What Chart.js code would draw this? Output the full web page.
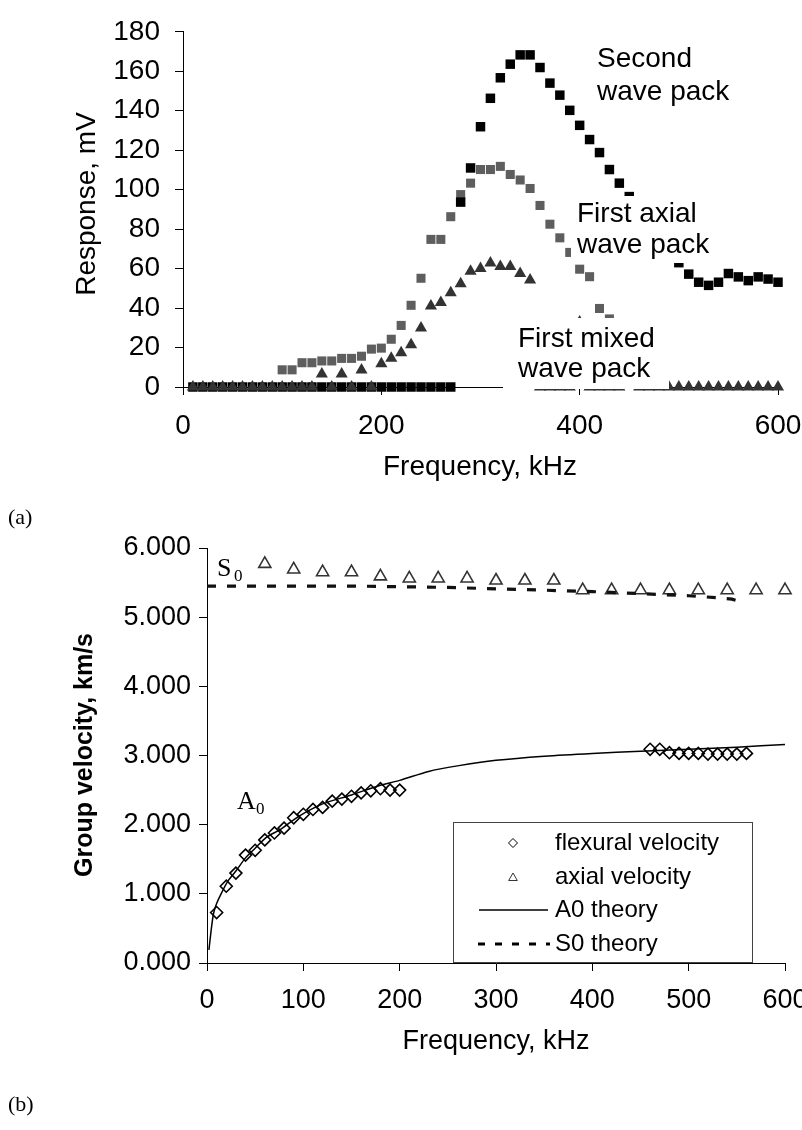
<!DOCTYPE html>
<html>

<head>
    <meta charset="utf-8">
    <title>Response and group velocity</title>
    <script src="https://cdn.jsdelivr.net/npm/chart.js"></script>
    <style>
        html, body { margin: 0; padding: 0; background: #fff; overflow: hidden; }
        body { width: 802px; height: 1130px; position: relative; }
        .pane { position: absolute; left: 0; }
        canvas { display: block; }
    </style>
</head>

<body>
    <div class="pane" style="top:0;"><canvas id="responseChart" width="830" height="545"></canvas></div>
    <div class="pane" style="top:520px;"><canvas id="velocityChart" width="830" height="610"></canvas></div>

    <script>
        // (a) response vs frequency, kHz
        var freqA = [10, 20, 30, 40, 50, 60, 70, 80, 90, 100,
            110, 120, 130, 140, 150, 160, 170, 180, 190, 200,
            210, 220, 230, 240, 250, 260, 270, 280, 290, 300,
            310, 320, 330, 340, 350, 360, 370, 380, 390, 400,
            410, 420, 430, 440, 450, 460, 470, 480, 490, 500,
            510, 520, 530, 540, 550, 560, 570, 580, 590, 600];
        // Second wave pack, mV
        var secondPack = [0, 0, 0, 0, 0, 0, 0, 0, 0, 0,
            0, 0, 0, 0, 0, 0, 0, 0, 0, 0,
            0, 0, 0, 0, 0, 0, 0, 93.7, 111, 131.9,
            146.3, 156.7, 163.6, 168.3, 168.3, 161.9, 154, 147.9, 140.2, 132.6,
            125.4, 118.8, 110.2, 103.3, 96.5, null, null, null, null, 63,
            57.2, 53.1, 51.5, 53.1, 57.5, 55.8, 53.9, 55.8, 54.7, 53.1];
        // First axial wave pack, mV
        var axialPack = [null, null, null, null, null, null, null, null, null, 8.7,
            8.7, 12.3, 12.3, 13.2, 13.2, 14.5, 14.5, 15.6, 19.2, 19.7,
            24.2, 31.2, 41.4, 55.1, 74.8, 74.8, 86.3, 97.5, 103.3, 110.2,
            110.2, 111.8, 107.7, 104.9, 100.6, 92, 82.5, 75.6, 68.2, 59.7,
            55.9, 39.8, 34.5, null, null, null, null, null, null, null,
            null, null, null, null, null, null, null, null, null, null];
        // First mixed wave pack, mV
        var mixedPack = [0, 0, 0, 0, 0, 0, 0, 0, 0, 0,
            0, 0, 0, 6.6, 0, 6.6, 0, 8.6, 0, 11.8,
            14.6, 17.3, 21.4, 29.9, 41.1, 42.8, 47.7, 52.3, 58.7, 60,
            62.8, 61.1, 61.1, 57.5, 54.2, 0, 0, 0, 0, 33,
            0, 0, 0, 0, null, 0, 0, 0, 0, 0,
            0, 0, 0, 0, 0, 0, 0, 0, 0, 0];

        // (b) group velocity, km/s
        var flexFreq = [10, 20, 30, 40, 50, 60, 70, 80, 90, 100, 110, 120, 130, 140, 150, 160, 170, 180, 190, 200,
            460, 470, 480, 490, 500, 510, 520, 530, 540, 550, 560];
        var flexVel = [0.73, 1.11, 1.30, 1.56, 1.63, 1.78, 1.88, 1.95, 2.10, 2.15, 2.22, 2.25, 2.34, 2.37, 2.41, 2.46, 2.49, 2.52, 2.50, 2.50,
            3.09, 3.09, 3.04, 3.03, 3.03, 3.03, 3.02, 3.02, 3.02, 3.02, 3.03];
        var axialFreq = [60, 90, 120, 150, 180, 210, 240, 270, 300, 330, 360, 390, 420, 450, 480, 510, 540, 570, 600];
        var axialVel = [5.77, 5.69, 5.65, 5.65, 5.59, 5.56, 5.56, 5.56, 5.53, 5.53, 5.53, 5.39, 5.39, 5.39, 5.39, 5.39, 5.39, 5.39, 5.39];
        var a0Freq = [2, 5, 7, 10, 15, 22, 30, 40, 50, 62, 76, 90, 100, 120, 150, 180, 200, 230, 260, 300, 350, 400, 450, 500, 550, 600];
        var a0Vel = [0.19, 0.55, 0.73, 0.86, 1.01, 1.19, 1.33, 1.52, 1.66, 1.82, 1.93, 2.07, 2.16, 2.30, 2.43, 2.57, 2.64, 2.77, 2.85, 2.93, 2.99, 3.03, 3.06, 3.09, 3.12, 3.16];
        var s0Freq = [0, 50, 100, 150, 200, 250, 300, 350, 400, 450, 500, 530, 545, 555];
        var s0Vel = [5.45, 5.45, 5.45, 5.45, 5.44, 5.43, 5.41, 5.39, 5.37, 5.34, 5.31, 5.28, 5.26, 5.22];

        var xTicksA = [0, 200, 400, 600];
        var yTicksA = [0, 20, 40, 60, 80, 100, 120, 140, 160, 180];
        var xTicksB = [0, 100, 200, 300, 400, 500, 600];
        var yTicksB = [0, 1, 2, 3, 4, 5, 6];

        var SANS = '"Liberation Sans", Arial, sans-serif';
        var SERIF = '"Liberation Serif", "Times New Roman", serif';

        function pairs(xs, ys) {
            return xs.map(function (x, i) { return { x: x, y: ys[i] }; })
                .filter(function (p) { return p.y !== null; });
        }

        function axisOpts(ticks, size, pad, fmt) {
            return {
                type: 'linear',
                min: ticks[0],
                max: ticks[ticks.length - 1],
                afterBuildTicks: function (scale) {
                    scale.ticks = ticks.map(function (v) { return { value: v }; });
                },
                ticks: {
                    color: '#000',
                    font: { family: SANS, size: size },
                    padding: pad,
                    maxRotation: 0,
                    autoSkip: false,
                    callback: fmt || function (v) { return v; }
                },
                grid: { drawOnChartArea: false, tickLength: 8, color: '#000', lineWidth: 1 },
                border: { color: '#000', width: 1 }
            };
        }

        function text(ctx, str, x, y, font, align, base) {
            ctx.font = font;
            ctx.fillStyle = '#000';
            ctx.textAlign = align || 'left';
            ctx.textBaseline = base || 'alphabetic';
            ctx.fillText(str, x, y);
        }

        // white label boxes over the markers, like the original
        function note(ctx, lines, x, baselines, box) {
            ctx.fillStyle = '#fff';
            ctx.fillRect(box[0], box[1], box[2] - box[0], box[3] - box[1]);
            lines.forEach(function (t, i) { text(ctx, t, x, baselines[i], '28px ' + SANS); });
        }

        var labelsA = {
            id: 'labelsA',
            afterDatasetsDraw: function (chart) {
                var ctx = chart.ctx;
                ctx.save();
                note(ctx, ['Second', 'wave pack'], 597, [67, 100], [585, 40, 712, 110]);
                note(ctx, ['First axial', 'wave pack'], 577, [222, 253], [571, 196, 716, 263]);
                note(ctx, ['First mixed', 'wave pack'], 518, [347, 377], [503, 318, 669, 389]);
                ctx.restore();
            },
            afterDraw: function (chart) {
                var ctx = chart.ctx;
                ctx.save();
                text(ctx, 'Frequency, kHz', 480, 467, '28px ' + SANS, 'center', 'middle');
                text(ctx, '(a)', 8, 518, '22px ' + SERIF, 'left', 'middle');
                ctx.translate(87, 204);
                ctx.rotate(-Math.PI / 2);
                text(ctx, 'Response, mV', 0, 0, '28px ' + SANS, 'center', 'middle');
                ctx.restore();
            }
        };

        var xA = axisOpts(xTicksA, 28, 14);
        xA.afterFit = function (scale) { scale.height = 158; };
        var yA = axisOpts(yTicksA, 28, 15);
        yA.afterFit = function (scale) { scale.width = 183; };

        new Chart(document.getElementById('responseChart'), {
            type: 'scatter',
            data: {
                datasets: [{
                    label: 'Second wave pack',
                    data: pairs(freqA, secondPack),
                    pointStyle: 'rect', pointRadius: 6.7,
                    backgroundColor: '#000', borderColor: '#000', borderWidth: 0,
                    order: 1, clip: false
                }, {
                    label: 'First axial wave pack',
                    data: pairs(freqA, axialPack),
                    pointStyle: 'rect', pointRadius: 6.4,
                    backgroundColor: '#5e5e5e', borderColor: '#5e5e5e', borderWidth: 0,
                    order: 2, clip: false
                }, {
                    label: 'First mixed wave pack',
                    data: pairs(freqA, mixedPack),
                    pointStyle: 'triangle', pointRadius: 7,
                    backgroundColor: '#333', borderColor: '#333', borderWidth: 0,
                    order: 0, clip: false
                }]
            },
            options: {
                responsive: false,
                animation: false,
                devicePixelRatio: 1,
                events: [],
                layout: { padding: { left: 0, top: 22, right: 52, bottom: 0 } },
                plugins: { legend: { display: false }, tooltip: { enabled: false } },
                scales: { x: xA, y: yA }
            },
            plugins: [labelsA]
        });

        // legend drawn inside the plot, as in the original
        var legendB = {
            id: 'legendB',
            afterDraw: function (chart) {
                var ctx = chart.ctx;
                var top = 520;
                ctx.save();
                ctx.fillStyle = '#fff';
                ctx.fillRect(453, 822 - top, 299, 140);
                ctx.strokeStyle = '#444';
                ctx.lineWidth = 1;
                ctx.strokeRect(453.5, 822.5 - top, 299, 140);
                var rows = [843, 877, 910, 944];
                var sets = chart.data.datasets;
                // flexural
                ctx.strokeStyle = '#000'; ctx.fillStyle = 'rgba(0,0,0,0)';
                Chart.helpers.drawPoint(ctx, { pointStyle: 'rectRot', radius: 4.5, borderWidth: 1.5, rotation: 0 }, 513, rows[0] - top);
                // axial
                ctx.strokeStyle = '#333';
                Chart.helpers.drawPoint(ctx, { pointStyle: 'triangle', radius: 5, borderWidth: 1.5, rotation: 0 }, 513, rows[1] - top + 1);
                // A0
                ctx.strokeStyle = '#000'; ctx.lineWidth = 1.5;
                ctx.beginPath(); ctx.moveTo(479, rows[2] - top); ctx.lineTo(548, rows[2] - top); ctx.stroke();
                // S0
                ctx.lineWidth = 3; ctx.setLineDash([7, 10]);
                ctx.beginPath(); ctx.moveTo(478, rows[3] - top); ctx.lineTo(550, rows[3] - top); ctx.stroke();
                ctx.setLineDash([]);
                [sets[0], sets[1], sets[2], sets[3]].forEach(function (ds, i) {
                    text(ctx, ds.label, 555, rows[i] - top, '24px ' + SANS, 'left', 'middle');
                });

                text(ctx, 'Frequency, kHz', 496, 1042 - top, '27px ' + SANS, 'center', 'middle');
                text(ctx, '(b)', 8, 1105 - top, '22px ' + SERIF, 'left', 'middle');
                text(ctx, 'S', 217, 576 - top, '26px ' + SERIF);
                text(ctx, '0', 234, 581 - top, '17px ' + SERIF);
                text(ctx, 'A', 237, 809 - top, '26px ' + SERIF);
                text(ctx, '0', 256, 814 - top, '17px ' + SERIF);
                ctx.translate(85, 755 - top);
                ctx.rotate(-Math.PI / 2);
                text(ctx, 'Group velocity, km/s', 0, 0, 'bold 25px ' + SANS, 'center', 'middle');
                ctx.restore();
            }
        };

        var xB = axisOpts(xTicksB, 27, 13);
        xB.afterFit = function (scale) { scale.height = 167; };
        var yB = axisOpts(yTicksB, 27, 8, function (v) { return v.toFixed(3); });
        yB.afterFit = function (scale) { scale.width = 207; };

        new Chart(document.getElementById('velocityChart'), {
            type: 'scatter',
            data: {
                datasets: [{
                    label: 'flexural velocity',
                    data: pairs(flexFreq, flexVel),
                    pointStyle: 'rectRot', pointRadius: 6,
                    backgroundColor: 'rgba(0,0,0,0)', borderColor: '#000', borderWidth: 1.6,
                    order: 2, clip: false
                }, {
                    label: 'axial velocity',
                    data: pairs(axialFreq, axialVel),
                    pointStyle: 'triangle', pointRadius: 7,
                    backgroundColor: 'rgba(0,0,0,0)', borderColor: '#333', borderWidth: 1.6,
                    order: 3, clip: false
                }, {
                    label: 'A0 theory',
                    data: pairs(a0Freq, a0Vel),
                    showLine: true, pointRadius: 0,
                    borderColor: '#000', borderWidth: 1.5, tension: 0.3,
                    order: 0, clip: false
                }, {
                    label: 'S0 theory',
                    data: pairs(s0Freq, s0Vel),
                    showLine: true, pointRadius: 0,
                    borderColor: '#111', borderWidth: 3.2, borderDash: [9, 11],
                    order: 1, clip: false
                }]
            },
            options: {
                responsive: false,
                animation: false,
                devicePixelRatio: 1,
                events: [],
                layout: { padding: { left: 0, top: 28, right: 45, bottom: 0 } },
                plugins: { legend: { display: false }, tooltip: { enabled: false } },
                scales: { x: xB, y: yB }
            },
            plugins: [legendB]
        });
    </script>

</body>

</html>
